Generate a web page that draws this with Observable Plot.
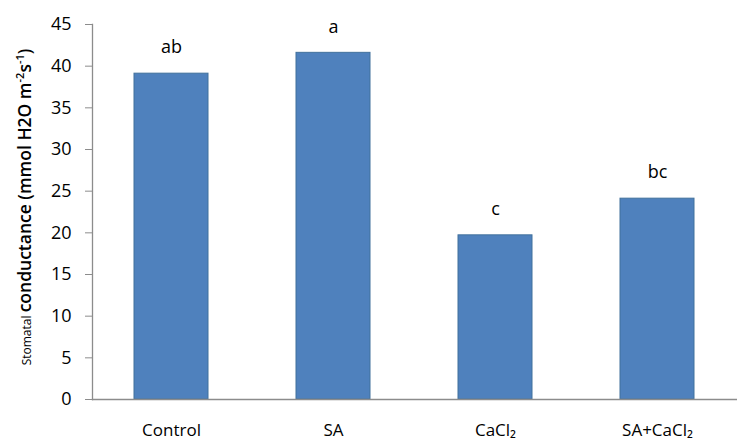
<!DOCTYPE html>
<html><head><meta charset="utf-8">
<script src="https://cdn.jsdelivr.net/npm/d3@7"></script>
<script src="https://cdn.jsdelivr.net/npm/@observablehq/plot@0.6"></script>
<style>body{margin:0;background:#fff}</style>
</head><body><div id="chart"></div>
<script>
const categories = ["Control", "SA", "CaCl₂", "SA+CaCl₂"];
const values = [39.1, 41.6, 19.7, 24.1];
const letters = ["ab", "a", "c", "bc"];
const yTicks = [0, 5, 10, 15, 20, 25, 30, 35, 40, 45];

const data = categories.map((c, i) => ({cat: c, v: values[i], l: letters[i]}));
const font = "'Open Sans', 'Liberation Sans', sans-serif";

const plot = Plot.plot({
  width: 737, height: 443,
  marginLeft: 92, marginRight: 0, marginTop: 24, marginBottom: 44,
  style: {fontFamily: font, fontSize: "17px", color: "#000", background: "#fff"},
  x: {domain: categories, paddingInner: 0.543, paddingOuter: 0.26, label: null},
  y: {domain: [0, 45], label: null},
  marks: [
    Plot.barY(data, {x: "cat", y: "v", fill: "#4f81bd", stroke: "#41719c", strokeWidth: 1}),
    Plot.text(data, {x: "cat", y: "v", text: "l", dy: -26, fontSize: 18, fill: "#000"}),
    Plot.frame({anchor: "bottom", stroke: "#8c8c8c", strokeWidth: 1.3}),
    Plot.frame({anchor: "left", stroke: "#8c8c8c", strokeWidth: 1.3}),
    Plot.axisY({ticks: yTicks, tickSize: 7, tickPadding: 14, stroke: "#8c8c8c", fontSize: 18, label: null}),
    Plot.axisX({tickSize: 0, tickPadding: 24, fontSize: 17, label: null})
  ]
});
document.getElementById("chart").appendChild(plot);

const svg = d3.select(plot);
const t = svg.append("text")
  .attr("transform", "translate(31,207) rotate(-90)")
  .attr("text-anchor", "middle")
  .attr("font-family", font)
  .attr("fill", "#000");
t.append("tspan").attr("font-size", 12).text("Stomatal ");
t.append("tspan").attr("font-size", 17.5).attr("font-weight", 600).text("conductance (mmol H2O m");
t.append("tspan").attr("font-size", 11).attr("font-weight", 600).attr("dy", -7).text("-2");
t.append("tspan").attr("font-size", 17.5).attr("font-weight", 600).attr("dy", 7).text("s");
t.append("tspan").attr("font-size", 11).attr("font-weight", 600).attr("dy", -7).text("-1");
t.append("tspan").attr("font-size", 17.5).attr("font-weight", 600).attr("dy", 7).text(")");
</script>
</body></html>
